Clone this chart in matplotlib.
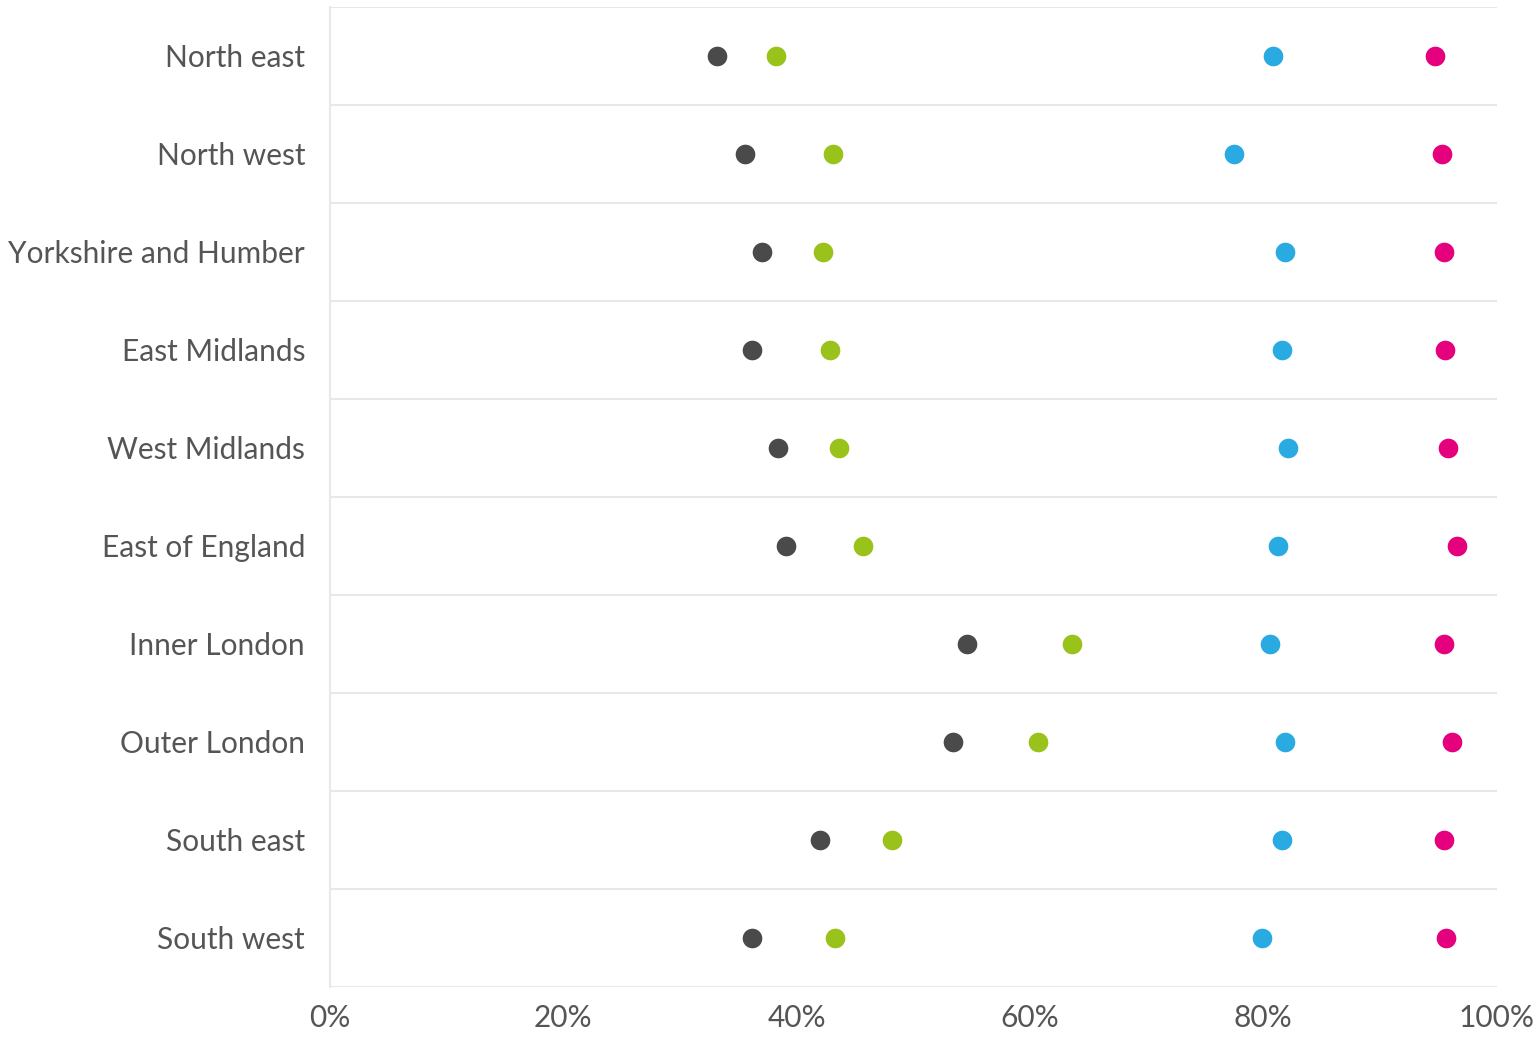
import numpy as np
import matplotlib.pyplot as plt

plt.rcParams['font.family'] = ['Lato', 'DejaVu Sans']

regions = ["North east", "North west", "Yorkshire and Humber", "East Midlands",
           "West Midlands", "East of England", "Inner London", "Outer London",
           "South east", "South west"]

gray_vals = [33.2, 35.6, 37.0, 36.2, 38.4, 39.1, 54.6, 53.4, 42.0, 36.2]
green_vals = [38.2, 43.1, 42.3, 42.9, 43.6, 45.7, 63.6, 60.7, 48.2, 43.3]
blue_vals = [80.8, 77.5, 81.9, 81.6, 82.1, 81.3, 80.6, 81.9, 81.6, 79.9]
pink_vals = [94.7, 95.3, 95.5, 95.6, 95.8, 96.6, 95.5, 96.2, 95.5, 95.7]

series = [(gray_vals, '#4a4a4a'), (green_vals, '#99c21a'),
          (blue_vals, '#29abe2'), (pink_vals, '#e5007d')]

fig = plt.figure(figsize=(15.35, 10.4), dpi=100)
ax = fig.add_axes([0.215, 0.051, 0.76, 0.9423])

y = np.arange(len(regions))
for vals, col in series:
    ax.scatter(vals, y, s=200, color=col, zorder=3, linewidths=0)

ax.set_xlim(0, 100)
ax.set_ylim(len(regions) - 0.5, -0.5)
ax.set_yticks(y)
ax.set_yticklabels(regions)
ax.set_yticks(np.arange(-0.5, len(regions)), minor=True)
ax.grid(axis='y', which='minor', color='#e8e8e8', linewidth=1.5)
ax.tick_params(axis='y', which='both', length=0, pad=18, labelsize=21.5, labelcolor='#555555')

ax.set_xticks(np.arange(0, 101, 20))
ax.set_xticklabels([f"{v}%" for v in range(0, 101, 20)])
ax.tick_params(axis='x', length=0, pad=12, labelsize=21.5, labelcolor='#555555')

for side in ['top', 'right', 'bottom']:
    ax.spines[side].set_visible(False)
ax.spines['left'].set_color('#e8e8e8')
ax.spines['left'].set_linewidth(1.5)

fig.savefig('out.png', dpi=100)
